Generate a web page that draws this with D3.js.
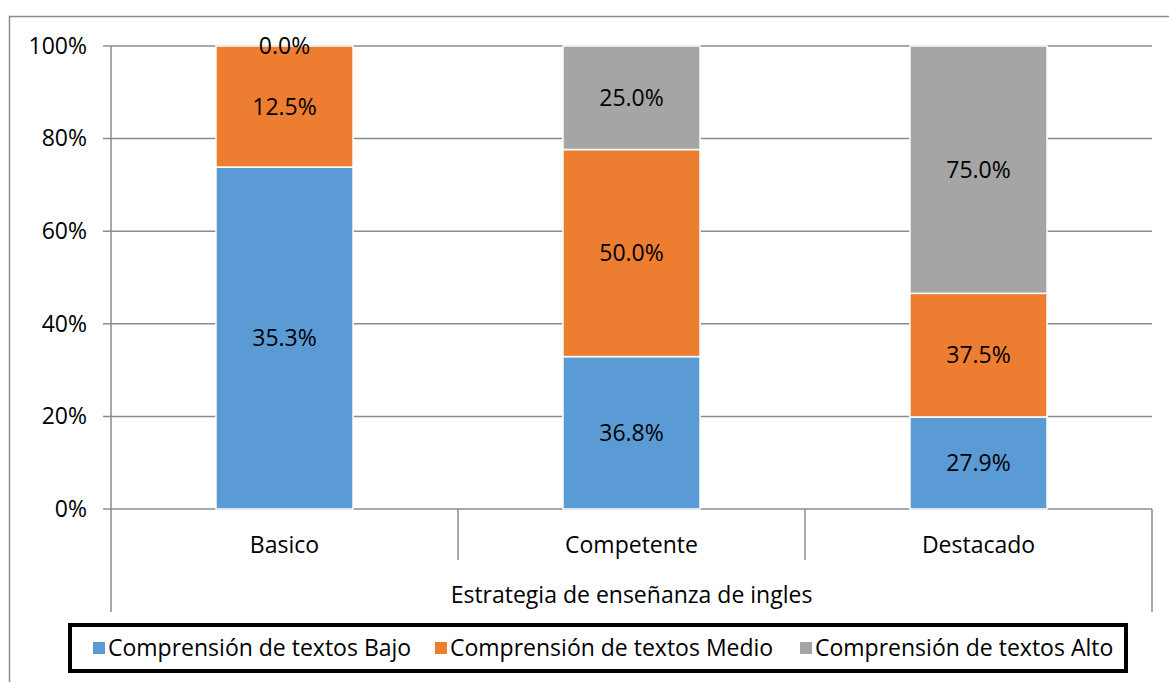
<!DOCTYPE html>
<html>
<head>
<meta charset="utf-8">
<script src="https://cdn.jsdelivr.net/npm/d3@7"></script>
<style>
  body { margin: 0; background: #fff; }
  text { font-family: "Open Sans", "Noto Sans", sans-serif; fill: #000; }
</style>
</head>
<body>
<div class="chart"></div>
<script>
var categories = ["Basico", "Competente", "Destacado"];
var seriesNames = ["Comprensión de textos Bajo", "Comprensión de textos Medio", "Comprensión de textos Alto"];
var bajo = [35.3, 36.8, 27.9];
var medio = [12.5, 50.0, 37.5];
var alto = [0.0, 25.0, 75.0];
var yTicks = [0, 0.2, 0.4, 0.6, 0.8, 1];
var colors = ["#5B9BD5", "#ED7D31", "#A5A5A5"];
var xTitle = "Estrategia de enseñanza de ingles";

var W = 1169, H = 682;
var fs = "23px";
var margin = {top: 46, right: 17, bottom: 173, left: 111},
    width = W - margin.left - margin.right,
    height = H - margin.top - margin.bottom;

var keys = ["bajo", "medio", "alto"];
var rows = categories.map(function (c, i) {
    return {cat: c, bajo: bajo[i], medio: medio[i], alto: alto[i]};
});

var stack = d3.stack().keys(keys).offset(d3.stackOffsetExpand);
var layers = stack(rows);

var xScale = d3.scaleBand().domain(categories).range([0, width]).paddingInner(0).paddingOuter(0);
var yScale = d3.scaleLinear().domain([0, 1]).range([height, 0]);
var barW = xScale.bandwidth() * 0.395;

var svg = d3.select(".chart").append("svg")
    .attr("width", W).attr("height", H);

// cadre extérieur
svg.append("path")
    .attr("d", "M9.5," + H + " V16.5 H" + W)
    .attr("fill", "none").attr("stroke", "#8c8c8c").attr("stroke-width", 1.5);

var canvas = svg.append("g")
    .attr("transform", "translate(" + margin.left + "," + margin.top + ")");

// grille
canvas.append("g").selectAll("line")
    .data(yTicks)
    .enter().append("line")
    .attr("x1", -8).attr("x2", width)
    .attr("y1", function (d) { return yScale(d); })
    .attr("y2", function (d) { return yScale(d); })
    .attr("stroke", "#8c8c8c").attr("stroke-width", 1.5);

// axe Y
var yAxis = d3.axisLeft(yScale).tickValues(yTicks).tickFormat(d3.format(".0%")).tickSize(0).tickPadding(24);
var gy = canvas.append("g").call(yAxis);
gy.select(".domain").remove();
gy.selectAll("text").style("font-size", fs).attr("font-family", null);

canvas.append("line")
    .attr("x1", 0).attr("x2", 0).attr("y1", 0).attr("y2", height + 103)
    .attr("stroke", "#8c8c8c").attr("stroke-width", 1.5);
canvas.append("line")
    .attr("x1", width).attr("x2", width).attr("y1", height).attr("y2", height + 103)
    .attr("stroke", "#8c8c8c").attr("stroke-width", 1.5);

// séparateurs des catégories
canvas.append("g").selectAll("line")
    .data(categories.slice(1))
    .enter().append("line")
    .attr("x1", function (d) { return xScale(d); })
    .attr("x2", function (d) { return xScale(d); })
    .attr("y1", height).attr("y2", height + 51)
    .attr("stroke", "#8c8c8c").attr("stroke-width", 1.5);

// barres
var layerG = canvas.selectAll(".layer")
    .data(layers)
    .enter().append("g")
    .attr("class", "layer")
    .attr("fill", function (d, i) { return colors[i]; });

layerG.selectAll("rect")
    .data(function (d) { return d; })
    .enter().append("rect")
    .attr("x", function (d) { return xScale(d.data.cat) + (xScale.bandwidth() - barW) / 2; })
    .attr("width", barW)
    .attr("y", function (d) { return yScale(d[1]); })
    .attr("height", function (d) { return yScale(d[0]) - yScale(d[1]); })
    .attr("stroke", "#fff").attr("stroke-width", 1.5);

// étiquettes
layerG.selectAll("text")
    .data(function (d) { return d.map(function (p) { p.key = d.key; return p; }); })
    .enter().append("text")
    .attr("x", function (d) { return xScale(d.data.cat) + xScale.bandwidth() / 2; })
    .attr("y", function (d) { return yScale((d[0] + d[1]) / 2); })
    .attr("dy", "0.35em")
    .attr("text-anchor", "middle")
    .style("font-size", fs)
    .text(function (d) { return d.data[d.key].toFixed(1) + "%"; });

// libellés des catégories
canvas.append("g").selectAll("text")
    .data(categories)
    .enter().append("text")
    .attr("x", function (d) { return xScale(d) + xScale.bandwidth() / 2; })
    .attr("y", height + 36)
    .attr("dy", "0.35em")
    .attr("text-anchor", "middle")
    .style("font-size", fs)
    .text(function (d) { return d; });

canvas.append("text")
    .attr("x", width / 2)
    .attr("y", height + 86)
    .attr("dy", "0.35em")
    .attr("text-anchor", "middle")
    .style("font-size", fs)
    .text(xTitle);

// légende
var legendX = [93, 435, 800];
var legend = svg.append("g");
legend.append("rect")
    .attr("x", 70).attr("y", 625).attr("width", 1056).attr("height", 46)
    .attr("fill", "#fff").attr("stroke", "#000").attr("stroke-width", 4);

var item = legend.selectAll(".item")
    .data(seriesNames)
    .enter().append("g")
    .attr("transform", function (d, i) { return "translate(" + legendX[i] + ",648)"; });
item.append("rect")
    .attr("x", 0).attr("y", -6).attr("width", 12).attr("height", 12)
    .attr("fill", function (d, i) { return colors[i]; });
item.append("text")
    .attr("x", 15).attr("dy", "0.35em")
    .style("font-size", fs)
    .text(function (d) { return d; });
</script>
</body>
</html>
